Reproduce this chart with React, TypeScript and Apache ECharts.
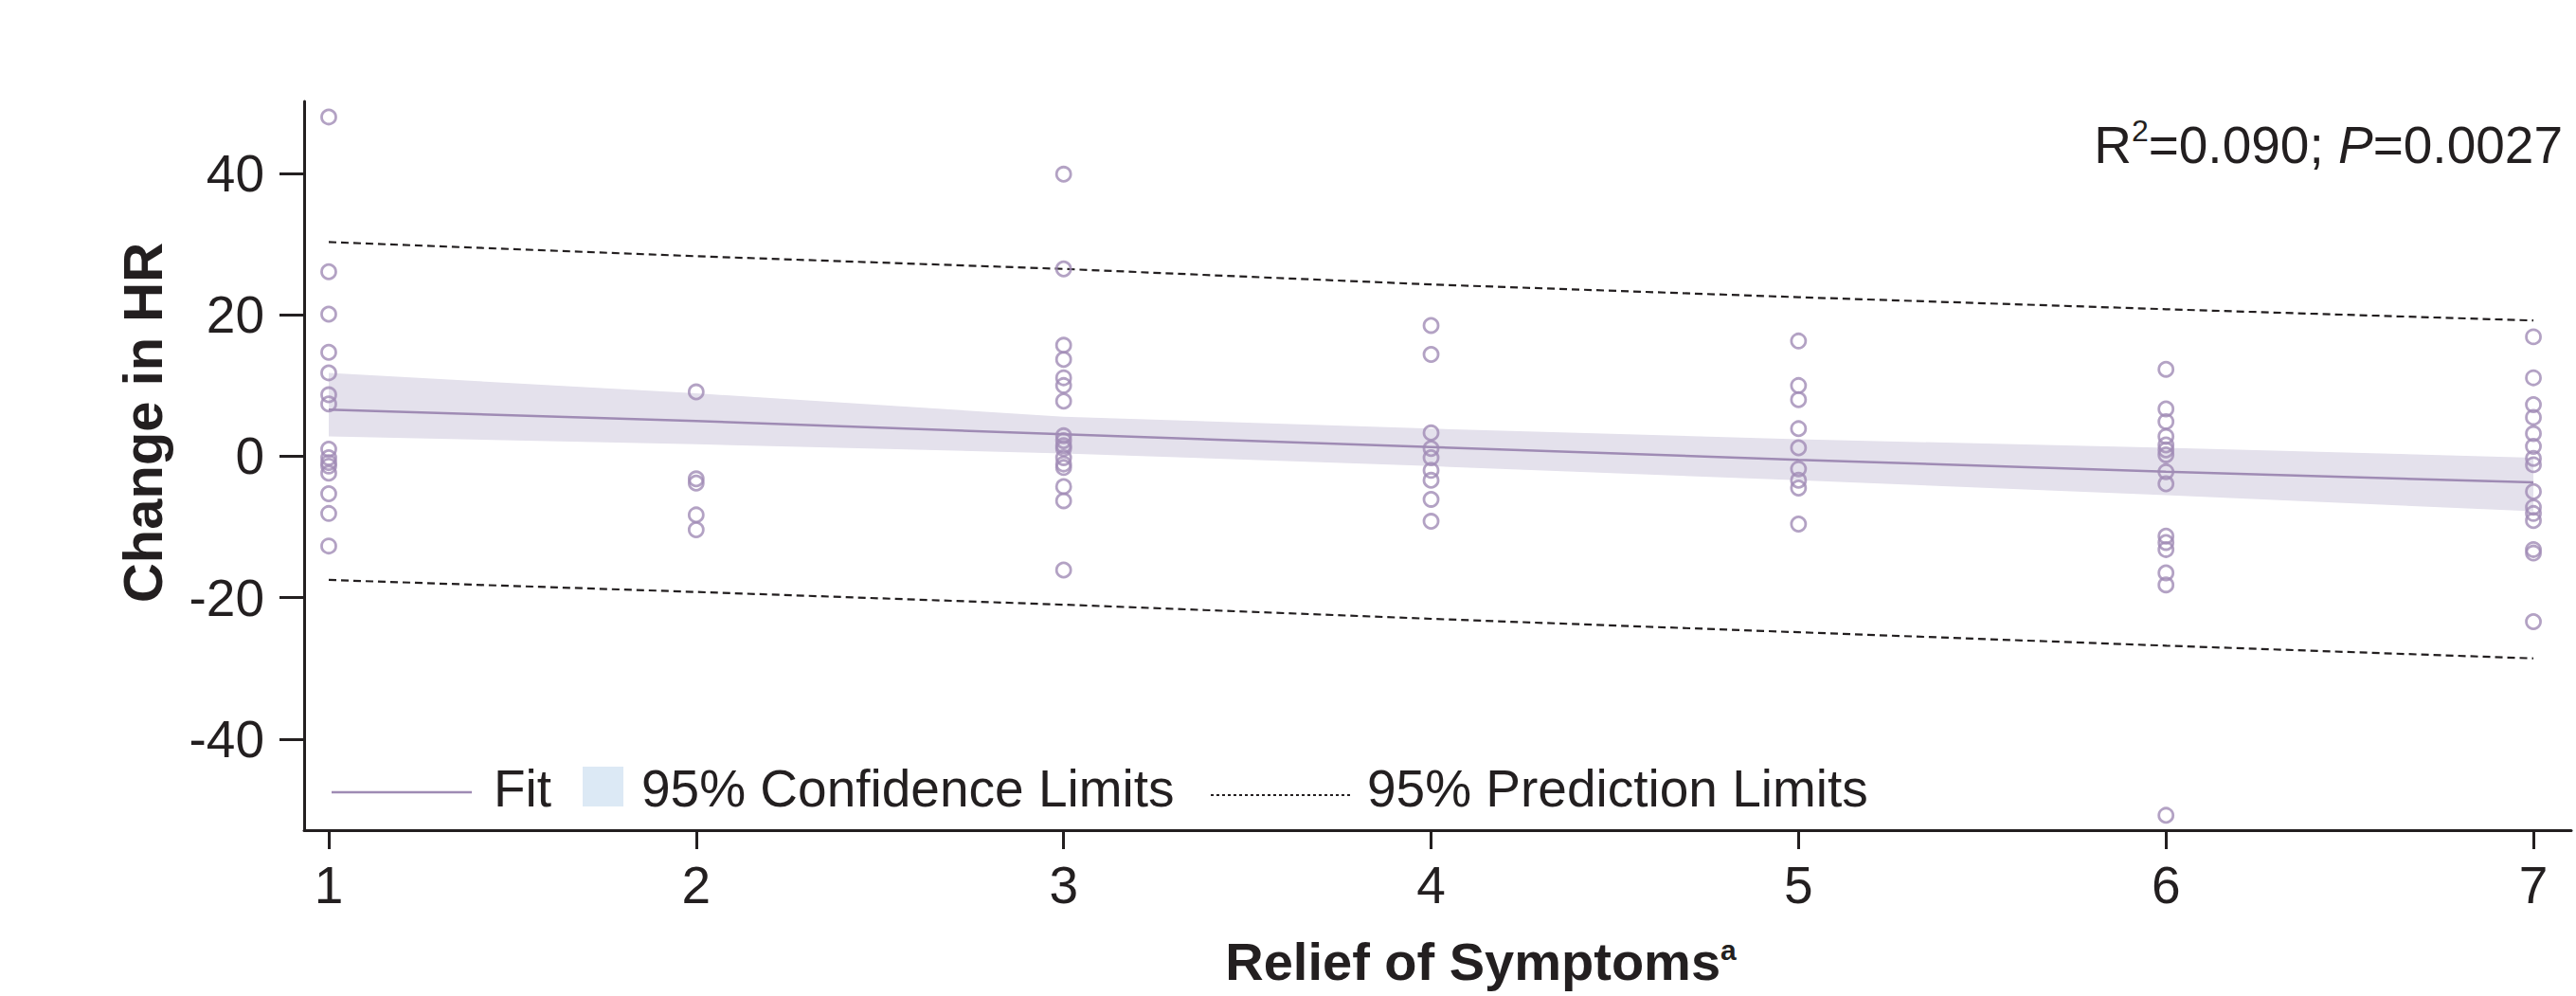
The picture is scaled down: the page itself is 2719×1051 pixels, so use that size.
import React, { useEffect, useRef } from 'react';
import * as echarts from 'echarts';

// Relief of symptoms score (x) and change in HR (y)
const SCORES = [1, 2, 3, 4, 5, 6, 7];
const HR_SCORE_1 = [48.0, 26.1, 20.1, 14.7, 11.8, 8.7, 7.4, 1.0, -0.2, -0.9, -1.4, -2.4, -5.3, -8.1, -12.7];
const HR_SCORE_2 = [9.1, -3.2, -3.8, -8.3, -10.4];
const HR_SCORE_3 = [39.9, 26.5, 15.7, 13.7, 11.1, 10.0, 7.8, 2.9, 2.2, 1.5, 1.1, -0.2, -1.1, -1.6, -4.3, -6.3, -16.1];
const HR_SCORE_4 = [18.5, 14.4, 3.3, 1.1, -0.2, -2.0, -3.4, -6.1, -9.2];
const HR_SCORE_5 = [16.3, 10.0, 8.0, 3.9, 1.2, -1.8, -3.4, -4.5, -9.6];
const HR_SCORE_6 = [12.3, 6.7, 4.9, 2.8, 1.6, 0.9, 0.2, -2.2, -3.9, -11.3, -12.2, -13.2, -16.5, -18.2, -50.8];
const HR_SCORE_7 = [16.9, 11.1, 7.3, 5.5, 3.2, 1.4, -0.3, -1.2, -5.0, -7.2, -8.1, -9.1, -13.2, -13.7, -23.4];

// Regression fit and limits at each score
const FIT = [6.6, 5.0, 3.1, 1.3, -0.5, -2.2, -3.7];
const CI_UPPER = [11.8, 8.9, 5.6, 3.9, 2.4, 1.2, -0.2];
const CI_LOWER = [2.8, 1.7, 0.4, -1.4, -3.4, -5.5, -7.8];
const PI_UPPER = [30.3, 28.3, 26.5, 24.3, 22.5, 20.8, 19.2];
const PI_LOWER = [-17.5, -19.2, -21.0, -23.0, -24.9, -26.8, -28.6];

const X_TICKS = [1, 2, 3, 4, 5, 6, 7];
const Y_TICKS = [-40, -20, 0, 20, 40];

const FONT = "'Liberation Sans', Arial, Helvetica, sans-serif";
const INK = '#231f20';
const PURPLE = '#9f8bb4';

export default function App() {
  const ref = useRef<HTMLDivElement>(null);

  useEffect(() => {
    if (!ref.current) return;
    const chart = echarts.init(ref.current, undefined, { renderer: 'svg' });

    const groups = [HR_SCORE_1, HR_SCORE_2, HR_SCORE_3, HR_SCORE_4, HR_SCORE_5, HR_SCORE_6, HR_SCORE_7];
    const points: number[][] = [];
    groups.forEach((vals, gi) => vals.forEach((v) => points.push([SCORES[gi], v])));

    const bandData = SCORES.map((x, i) => [x, CI_LOWER[i], CI_UPPER[i]]);

    const option: any = {
      animation: false,
      backgroundColor: '#ffffff',
      grid: { left: 321, top: 107, width: 2393, height: 769 },
      xAxis: {
        type: 'value',
        min: 0.933,
        max: 7.103,
        splitLine: { show: false },
        axisLine: { show: true, onZero: false, lineStyle: { color: INK, width: 3 } },
        axisTick: { show: true, length: 20, lineStyle: { color: INK, width: 3 }, customValues: X_TICKS },
        axisLabel: { customValues: X_TICKS, fontSize: 55, color: INK, fontFamily: FONT, margin: 30 },
      },
      yAxis: {
        type: 'value',
        min: -52.9,
        max: 50.2,
        splitLine: { show: false },
        axisLine: { show: true, onZero: false, lineStyle: { color: INK, width: 3 } },
        axisTick: { show: true, length: 26, lineStyle: { color: INK, width: 3 }, customValues: Y_TICKS },
        axisLabel: { customValues: Y_TICKS, fontSize: 55, color: INK, fontFamily: FONT, margin: 42 },
      },
      series: [
        {
          name: '95% Confidence Limits',
          type: 'custom',
          silent: true,
          data: bandData,
          encode: { x: 0, y: [1, 2] },
          z: 1,
          renderItem: (params: any, api: any) => {
            if (params.dataIndex !== 0) return null;
            const upper = bandData.map((d) => api.coord([d[0], d[2]]));
            const lower = bandData.map((d) => api.coord([d[0], d[1]])).reverse();
            return {
              type: 'polygon',
              shape: { points: upper.concat(lower) },
              style: { fill: '#e4e1ec', stroke: 'none' },
            };
          },
        },
        {
          name: 'Fit',
          type: 'line',
          symbol: 'none',
          lineStyle: { color: PURPLE, width: 2.5 },
          data: SCORES.map((x, i) => [x, FIT[i]]),
          z: 3,
        },
        {
          name: 'PI upper',
          type: 'line',
          symbol: 'none',
          lineStyle: { color: INK, width: 2.2, type: [8, 5] },
          data: SCORES.map((x, i) => [x, PI_UPPER[i]]),
          z: 3,
        },
        {
          name: 'PI lower',
          type: 'line',
          symbol: 'none',
          lineStyle: { color: INK, width: 2.2, type: [8, 5] },
          data: SCORES.map((x, i) => [x, PI_LOWER[i]]),
          z: 3,
        },
        {
          name: 'Observed',
          type: 'scatter',
          symbol: 'circle',
          symbolSize: 15,
          itemStyle: { color: 'rgba(0,0,0,0)', borderColor: '#a08bb5', borderWidth: 2.8 },
          data: points,
          z: 5,
        },
      ],
      graphic: [
        // legend
        { type: 'line', shape: { x1: 350, y1: 836, x2: 498, y2: 836 }, style: { stroke: PURPLE, lineWidth: 2.5 } },
        { type: 'text', x: 521, y: 832, style: { text: 'Fit', fontSize: 55, fontFamily: FONT, fill: INK, textVerticalAlign: 'middle' } },
        { type: 'rect', shape: { x: 615, y: 809, width: 43, height: 42 }, style: { fill: '#dce9f5' } },
        { type: 'text', x: 677, y: 832, style: { text: '95% Confidence Limits', fontSize: 55, fontFamily: FONT, fill: INK, textVerticalAlign: 'middle' } },
        { type: 'line', shape: { x1: 1278, y1: 839, x2: 1425, y2: 839 }, style: { stroke: INK, lineWidth: 2, lineDash: [3, 3] } },
        { type: 'text', x: 1443, y: 832, style: { text: '95% Prediction Limits', fontSize: 55, fontFamily: FONT, fill: INK, textVerticalAlign: 'middle' } },
        // annotation
        {
          type: 'text',
          x: 2705,
          y: 153,
          style: {
            text: '{n|R}{s|2}{n|=0.090; }{i|P}{n|=0.0027}',
            textAlign: 'right',
            textVerticalAlign: 'middle',
            fill: INK,
            rich: {
              n: { fontSize: 55, fontFamily: FONT, fill: INK, lineHeight: 62 },
              i: { fontSize: 55, fontFamily: FONT, fontStyle: 'italic', fill: INK, lineHeight: 62 },
              s: { fontSize: 32, fontFamily: FONT, fill: INK, verticalAlign: 'top', lineHeight: 62, padding: [0, 0, 22, 0] },
            },
          },
        },
        // axis titles
        {
          type: 'text',
          x: 150,
          y: 446,
          rotation: Math.PI / 2,
          style: { text: 'Change in HR', fontSize: 58, fontWeight: 'bold', fontFamily: FONT, fill: INK, textAlign: 'center', textVerticalAlign: 'middle' },
        },
        {
          type: 'text',
          x: 1563,
          y: 1014,
          style: {
            text: '{b|Relief of Symptoms}{s|a}',
            textAlign: 'center',
            textVerticalAlign: 'middle',
            fill: INK,
            rich: {
              b: { fontSize: 56, fontWeight: 'bold', fontFamily: FONT, fill: INK, lineHeight: 62 },
              s: { fontSize: 30, fontWeight: 'bold', fontFamily: FONT, fill: INK, lineHeight: 62, padding: [0, 0, 24, 0] },
            },
          },
        },
      ],
    };

    chart.setOption(option);
    return () => chart.dispose();
  }, []);

  return (
    <div
      ref={ref}
      style={{ position: 'fixed', left: 0, top: 0, width: 2719, height: 1051, background: '#fff' }}
    />
  );
}
